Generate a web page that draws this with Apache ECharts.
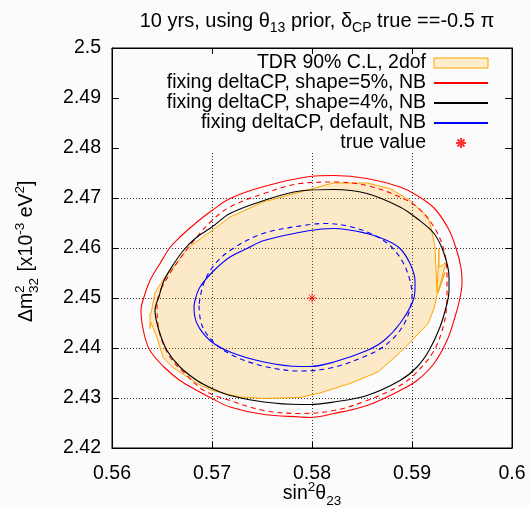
<!DOCTYPE html>
<html><head><meta charset="utf-8">
<script src="https://cdn.jsdelivr.net/npm/echarts@6/dist/echarts.min.js"></script>
<style>html,body{margin:0;padding:0;background:#fbfbfb}#c{width:530px;height:508px}</style>
</head><body><div id="c"></div><script>
const FONT = '"Liberation Sans", Arial, Helvetica, sans-serif';
const BG = '#fbfbfb';

// axis ranges / ticks
const xMin = 0.56, xMax = 0.60, xStep = 0.01;
const yMin = 2.42, yMax = 2.50, yStep = 0.01;

// names
const nameTDR = 'TDR 90% C.L, 2dof';
const nameS5 = 'fixing deltaCP, shape=5%, NB';
const nameS4 = 'fixing deltaCP, shape=4%, NB';
const nameDef = 'fixing deltaCP, default, NB';
const nameTrue = 'true value';

// contours [sin^2 theta23, dm2_32]
const tdr90 = [[0.5788,2.4712],[0.5821,2.4730],[0.5855,2.4730],[0.5878,2.4719],[0.5898,2.4695],[0.5916,2.4662],[0.5919,2.4641],[0.5923,2.4602],[0.5925,2.4511],[0.5927,2.4599],[0.5927,2.4561],[0.5934,2.4571],[0.5926,2.4511],[0.5933,2.4551],[0.5925,2.4505],[0.5922,2.4479],[0.5916,2.4449],[0.5898,2.4411],[0.5888,2.4391],[0.5866,2.4352],[0.5838,2.4329],[0.5808,2.4310],[0.5788,2.4301],[0.5751,2.4299],[0.5728,2.4302],[0.5700,2.4315],[0.5685,2.4329],[0.5661,2.4361],[0.5651,2.4381],[0.5645,2.4421],[0.5639,2.4451],[0.5638,2.4439],[0.5638,2.4469],[0.5639,2.4469],[0.5643,2.4511],[0.5653,2.4542],[0.5662,2.4562],[0.5675,2.4599],[0.5700,2.4635],[0.5718,2.4662],[0.5751,2.4692]];

const shape5 = [[0.5632,2.4502],[0.5629,2.4475],[0.5632,2.4429],[0.5638,2.4395],[0.5652,2.4362],[0.5668,2.4335],[0.5685,2.4315],[0.5700,2.4299],[0.5718,2.4282],[0.5752,2.4267],[0.5788,2.4262],[0.5798,2.4261],[0.5822,2.4269],[0.5855,2.4285],[0.5888,2.4315],[0.5905,2.4335],[0.5922,2.4369],[0.5935,2.4415],[0.5943,2.4462],[0.5948,2.4500],[0.5950,2.4530],[0.5949,2.4560],[0.5944,2.4600],[0.5936,2.4640],[0.5922,2.4680],[0.5905,2.4705],[0.5888,2.4722],[0.5855,2.4739],[0.5822,2.4745],[0.5798,2.4743],[0.5752,2.4723],[0.5718,2.4699],[0.5700,2.4675],[0.5685,2.4652],[0.5668,2.4622],[0.5658,2.4601],[0.5648,2.4569],[0.5638,2.4535]];

const shape5dash = [[0.5650,2.4522],[0.5645,2.4489],[0.5647,2.4435],[0.5658,2.4382],[0.5675,2.4345],[0.5692,2.4315],[0.5718,2.4295],[0.5752,2.4275],[0.5788,2.4269],[0.5822,2.4275],[0.5855,2.4295],[0.5888,2.4325],[0.5905,2.4352],[0.5922,2.4395],[0.5932,2.4449],[0.5935,2.4502],[0.5935,2.4542],[0.5932,2.4595],[0.5922,2.4642],[0.5905,2.4682],[0.5888,2.4702],[0.5855,2.4725],[0.5822,2.4732],[0.5788,2.4729],[0.5752,2.4709],[0.5718,2.4682],[0.5700,2.4655],[0.5682,2.4615],[0.5662,2.4562]];

const shape4 = [[0.5647,2.4502],[0.5643,2.4475],[0.5647,2.4435],[0.5655,2.4395],[0.5668,2.4362],[0.5685,2.4335],[0.5700,2.4319],[0.5718,2.4305],[0.5752,2.4292],[0.5788,2.4287],[0.5798,2.4287],[0.5822,2.4292],[0.5855,2.4305],[0.5888,2.4335],[0.5905,2.4362],[0.5917,2.4395],[0.5928,2.4442],[0.5935,2.4489],[0.5937,2.4515],[0.5937,2.4542],[0.5932,2.4589],[0.5922,2.4629],[0.5905,2.4659],[0.5888,2.4682],[0.5855,2.4709],[0.5822,2.4717],[0.5788,2.4714],[0.5752,2.4695],[0.5718,2.4669],[0.5700,2.4642],[0.5685,2.4622],[0.5673,2.4599],[0.5662,2.4569],[0.5652,2.4535]];

const defaultNB = [[0.5683,2.4495],[0.5682,2.4482],[0.5685,2.4449],[0.5698,2.4415],[0.5718,2.4392],[0.5752,2.4372],[0.5788,2.4363],[0.5798,2.4363],[0.5822,2.4372],[0.5855,2.4395],[0.5872,2.4415],[0.5888,2.4449],[0.5900,2.4489],[0.5903,2.4515],[0.5903,2.4535],[0.5898,2.4569],[0.5888,2.4599],[0.5875,2.4615],[0.5855,2.4629],[0.5822,2.4639],[0.5798,2.4635],[0.5752,2.4615],[0.5735,2.4599],[0.5718,2.4582],[0.5702,2.4555],[0.5688,2.4522]];

const defaultDash = [[0.5687,2.4485],[0.5690,2.4445],[0.5703,2.4409],[0.5723,2.4383],[0.5753,2.4363],[0.5788,2.4354],[0.5821,2.4361],[0.5855,2.4385],[0.5873,2.4405],[0.5888,2.4435],[0.5897,2.4471],[0.5900,2.4505],[0.5898,2.4535],[0.5891,2.4571],[0.5880,2.4601],[0.5863,2.4625],[0.5838,2.4643],[0.5813,2.4649],[0.5798,2.4647],[0.5751,2.4629],[0.5718,2.4595],[0.5701,2.4563],[0.5691,2.4525]];

const trueValue = [[0.58, 2.45]];

const close = a => a.concat([a[0]]);

const chart = echarts.init(document.getElementById('c'), null, {renderer: 'canvas'});

function mkAxis(extra) {
  return Object.assign({
    show: true,
    axisLine: {show: true, onZero: false, lineStyle: {color: '#000', width: 1}},
    axisTick: {show: true, inside: true, length: 6, lineStyle: {color: '#000'}},
  }, extra);
}

function lineSeries(name, data, color, dashed) {
  return {
    type: 'line', name, data: close(data), smooth: 0.35, symbol: 'none',
    lineStyle: {color, width: 1.1, type: dashed ? [5, 4] : 'solid'},
    itemStyle: {color}, silent: true, z: 3
  };
}

const legendLine = name => ({name, itemStyle: {opacity: 0}});

const option = {
  backgroundColor: BG,
  animation: false,
  textStyle: {fontFamily: FONT},
  title: {
    text: '10 yrs, using θ{sub|13} prior, δ{sub|CP} true ==-0.5 π',
    left: 312, top: 2, textAlign: 'center',
    textStyle: {
      fontFamily: FONT, fontSize: 20, fontWeight: 'normal', color: '#000', lineHeight: 28,
      rich: {sub: {fontFamily: FONT, fontSize: 14, color: '#000', verticalAlign: 'bottom', lineHeight: 28}}
    }
  },
  grid: {left: 112, right: 18, top: 48, bottom: 60, outerBoundsMode: 'none', containLabel: false,
    show: true, borderColor: '#000', borderWidth: 1, backgroundColor: 'transparent'},
  legend: {
    orient: 'vertical', right: 25, top: 53, align: 'right',
    itemWidth: 54, itemHeight: 10, itemGap: 0,
    padding: [0, 16, 0, 47], backgroundColor: BG,
    selectedMode: false,
    textStyle: {fontFamily: FONT, fontSize: 19.5, color: '#000', lineHeight: 19.5, padding: [0, 3, 0, 0]},
    data: [
      {name: nameTDR, icon: 'rect', itemStyle: {color: '#ffedcc', borderColor: '#ffa500', borderWidth: 1}},
      legendLine(nameS5),
      legendLine(nameS4),
      legendLine(nameDef),
      {name: nameTrue}
    ]
  },
  xAxis: [
    mkAxis({
      type: 'value', min: xMin, max: xMax, interval: xStep, position: 'bottom',
      name: 'sin{sup|2}θ{sub|23}', nameLocation: 'middle', nameGap: 32, nameMoveOverlap: false,
      nameTextStyle: {
        fontFamily: FONT, fontSize: 19.5, color: '#000', lineHeight: 28,
        rich: {
          sup: {fontFamily: FONT, fontSize: 13.5, color: '#000', verticalAlign: 'top', lineHeight: 28},
          sub: {fontFamily: FONT, fontSize: 13.5, color: '#000', verticalAlign: 'bottom', lineHeight: 28}
        }
      },
      axisLabel: {fontFamily: FONT, fontSize: 19.5, color: '#000', margin: 16},
      splitLine: {show: true, lineStyle: {color: '#333', width: 1, type: [1, 2]}}
    }),
    mkAxis({
      type: 'value', min: xMin, max: xMax, interval: xStep, position: 'top', z: 6,
      axisLabel: {show: false}, splitLine: {show: false}
    })
  ],
  yAxis: [
    mkAxis({
      type: 'value', min: yMin, max: yMax, interval: yStep, position: 'left',
      axisLabel: {fontFamily: FONT, fontSize: 19.5, color: '#000', margin: 11},
      splitLine: {show: true, lineStyle: {color: '#333', width: 1, type: [1, 2]}}
    }),
    mkAxis({
      type: 'value', min: yMin, max: yMax, interval: yStep, position: 'right', z: 6,
      axisLabel: {show: false}, splitLine: {show: false}
    })
  ],
  graphic: [{
    type: 'group', x: 27, y: 250, rotation: Math.PI / 2,
    children: [
      {type: 'text', x: -72, y: 0, style: {text: 'Δm', font: '19.5px ' + FONT, fill: '#000', verticalAlign: 'middle', align: 'left'}},
      {type: 'text', x: -43, y: -7, style: {text: '2', font: '13.5px ' + FONT, fill: '#000', verticalAlign: 'middle', align: 'left'}},
      {type: 'text', x: -43, y: 7, style: {text: '32', font: '13.5px ' + FONT, fill: '#000', verticalAlign: 'middle', align: 'left'}},
      {type: 'text', x: -27, y: 0, style: {
        text: ' [x10{sup|-3} eV{sup|2}]', font: '19.5px ' + FONT, fill: '#000', verticalAlign: 'middle', align: 'left', lineHeight: 28,
        rich: {sup: {font: '13.5px ' + FONT, fill: '#000', verticalAlign: 'top', lineHeight: 28}}
      }}
    ]
  }],
  series: [
    {
      type: 'custom', name: nameTDR, data: tdr90, silent: true, z: 2,
      itemStyle: {color: '#ffedcc', borderColor: '#ffa500'},
      renderItem: function (params, api) {
        if (params.dataIndex !== 0) return null;
        const pts = tdr90.map(p => api.coord(p));
        return {type: 'polygon', shape: {points: pts},
          style: {fill: 'rgba(255,165,0,0.2)', stroke: '#ffa500', lineWidth: 1}};
      }
    },
    lineSeries(nameS5, shape5, '#ff0000', false),
    lineSeries('shape=5% dashed', shape5dash, '#ff0000', true),
    lineSeries(nameS4, shape4, '#000000', false),
    lineSeries(nameDef, defaultNB, '#0000ff', false),
    lineSeries('default dashed', defaultDash, '#0000ff', true),
    {
      type: 'scatter', name: nameTrue, data: trueValue, z: 5, silent: true,
      symbol: 'path://M5,0L5,10M0,5L10,5M1.5,1.5L8.5,8.5M1.5,8.5L8.5,1.5',
      symbolSize: 9, symbolKeepAspect: true,
      itemStyle: {color: 'rgba(0,0,0,0)', borderColor: '#ff0000', borderWidth: 1}
    },
    {type: 'scatter', name: 'mirror', xAxisIndex: 1, yAxisIndex: 1, data: [], silent: true}
  ]
};
chart.setOption(option);
</script></body></html>
